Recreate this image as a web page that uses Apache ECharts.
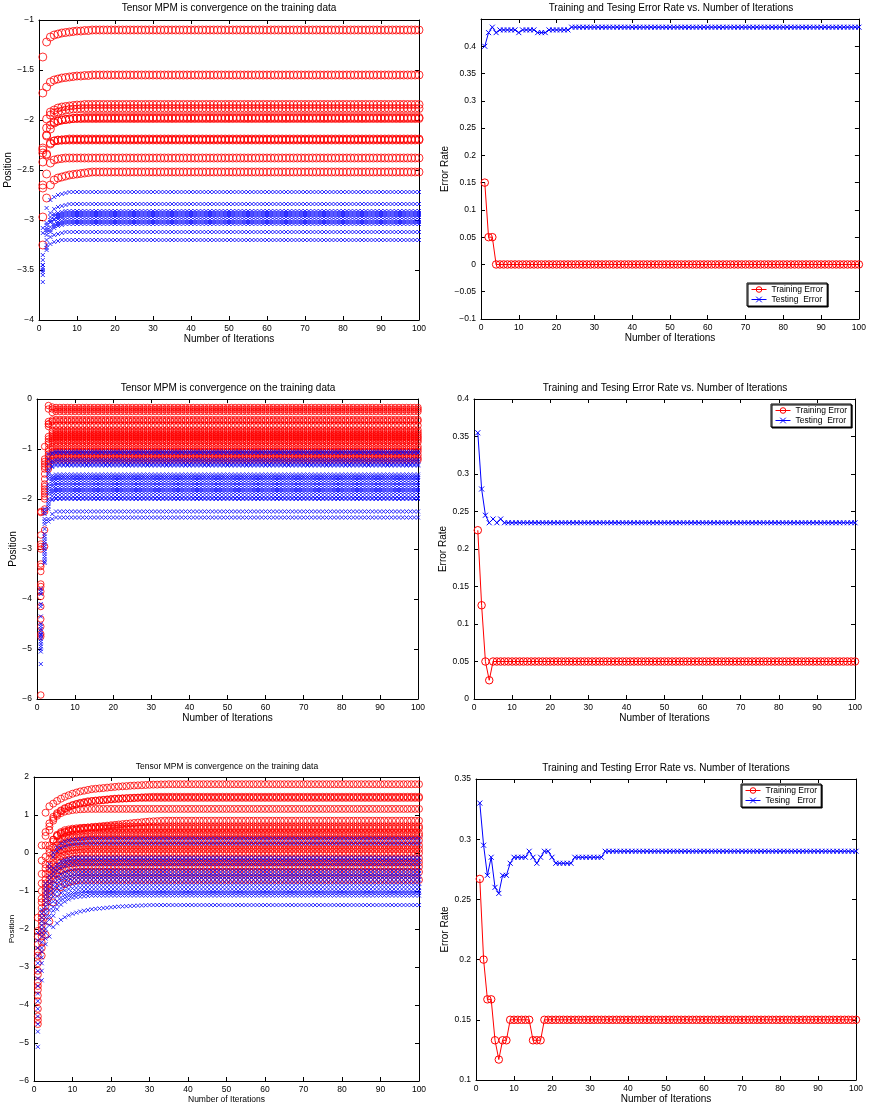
<!DOCTYPE html>
<html><head><meta charset="utf-8">
<script src="https://cdn.jsdelivr.net/npm/echarts@6/dist/echarts.min.js"></script>
<style>html,body{margin:0;padding:0;background:#fff}#c{width:869px;height:1107px}</style>
</head><body><div id="c"></div>
<script>
// ================= DATA =================
// Each curve lists the values, starting at iteration 1,
// up to the point where it has converged; it stays flat at its last value to iteration 100.
const ITER = 100;

// ---- Panel 1 (top-left): Position vs iterations ----
const p1RedCurves = [
  [-1.37,-1.22,-1.17,-1.15,-1.14,-1.13,-1.125,-1.12,-1.115,-1.11,-1.11,-1.105,-1.105,-1.10],
  [-1.73,-1.67,-1.62,-1.60,-1.59,-1.58,-1.575,-1.57,-1.565,-1.56,-1.56,-1.555,-1.555,-1.55],
  [-2.28,-1.99,-1.92,-1.90,-1.88,-1.87,-1.865,-1.86,-1.855,-1.85,-1.85,-1.845],
  [-2.30,-2.08,-1.95,-1.93,-1.92,-1.91,-1.90,-1.895,-1.89,-1.89,-1.885],
  [-2.33,-2.15,-2.05,-2.02,-2.01,-2.00,-1.995,-1.99,-1.985,-1.98,-1.98,-1.975],
  [-2.42,-2.16,-2.09,-2.03,-2.01,-2.00,-1.995,-1.99,-1.985,-1.985],
  [-2.65,-2.34,-2.23,-2.21,-2.20,-2.20,-2.195,-2.19],
  [-2.68,-2.35,-2.24,-2.21,-2.205,-2.20],
  [-2.97,-2.54,-2.43,-2.40,-2.39,-2.385,-2.38],
  [-3.25,-2.78,-2.65,-2.60,-2.58,-2.57,-2.56,-2.55,-2.545,-2.54,-2.535,-2.53,-2.525,-2.52]
];
const p1BlueCurves = [
  [-3.08,-2.88,-2.80,-2.77,-2.75,-2.74,-2.73,-2.72],
  [-3.35,-3.03,-2.93,-2.89,-2.87,-2.86,-2.85,-2.84],
  [-3.45,-3.05,-2.97,-2.94,-2.93,-2.92,-2.91],
  [-3.40,-3.10,-3.00,-2.96,-2.95,-2.94,-2.93],
  [-3.50,-3.12,-3.02,-2.99,-2.97,-2.96,-2.95],
  [-3.13,-3.08,-3.02,-3.00,-2.99,-2.98,-2.97],
  [-3.55,-3.20,-3.07,-3.04,-3.02,-3.01,-3.00],
  [-3.52,-3.15,-3.10,-3.06,-3.04,-3.03,-3.02],
  [-3.62,-3.25,-3.12,-3.08,-3.06,-3.05,-3.04],
  [-3.45,-3.28,-3.17,-3.15,-3.14,-3.13,-3.12],
  [-3.48,-3.30,-3.24,-3.22,-3.21,-3.20]
];

// ---- Panel 2 (top-right): error rates ----
const p2TrainErr = [0.15,0.05,0.05,0];
const p2TestErr  = [0.40,0.425,0.435,0.425,0.43,0.43,0.43,0.43,0.43,0.425,0.43,0.43,0.43,0.43,0.425,0.425,0.425,0.43,0.43,0.43,0.43,0.43,0.43,0.435];

// ---- Panel 3 (middle-left) ----
const p3RedCurves = [
  [-2.25,-0.95,-0.13,-0.16,-0.17],
  [-2.27,-1.20,-0.20,-0.20,-0.21],
  [-2.72,-1.25,-0.50,-0.27,-0.25],
  [-2.90,-1.30,-0.45,-0.42,-0.41],
  [-2.95,-1.35,-0.50,-0.45,-0.44],
  [-3.00,-1.40,-0.55,-0.53,-0.53],
  [-3.30,-1.50,-0.75,-0.63,-0.62],
  [-3.35,-1.60,-0.80,-0.68,-0.67],
  [-3.45,-1.70,-0.85,-0.72,-0.71],
  [-3.70,-1.75,-0.90,-0.76,-0.75],
  [-3.75,-1.80,-1.00,-0.79,-0.78],
  [-3.85,-1.85,-1.05,-0.83,-0.82],
  [-3.95,-1.90,-1.10,-0.87,-0.86],
  [-4.15,-1.95,-1.15,-0.96,-0.95],
  [-4.40,-2.00,-1.20,-1.01,-1.00],
  [-4.55,-2.20,-1.25,-1.06,-1.05],
  [-4.70,-2.25,-1.30,-1.13,-1.12],
  [-4.75,-2.62,-1.35,-1.19,-1.18],
  [-5.92,-2.95,-1.40,-1.23,-1.22]
];
const p3BlueCurves = [
  [-3.80,-2.20,-1.10,-1.07,-1.05],
  [-3.85,-2.25,-1.20,-1.10,-1.08],
  [-3.90,-2.30,-1.30,-1.24,-1.21],
  [-4.10,-2.40,-1.40,-1.28,-1.25],
  [-4.15,-2.45,-1.45,-1.34,-1.31],
  [-4.35,-2.50,-1.50,-1.36,-1.33],
  [-4.50,-2.60,-1.55,-1.53,-1.51],
  [-4.55,-2.70,-1.60,-1.57,-1.55],
  [-4.60,-2.75,-1.70,-1.60,-1.58],
  [-4.65,-2.80,-1.75,-1.64,-1.62],
  [-4.70,-2.85,-1.80,-1.70,-1.68],
  [-4.72,-2.90,-1.85,-1.74,-1.72],
  [-4.75,-2.95,-1.90,-1.80,-1.78],
  [-4.80,-3.00,-2.00,-1.84,-1.82],
  [-4.85,-3.05,-2.05,-1.88,-1.86],
  [-4.90,-3.10,-2.10,-1.94,-1.92],
  [-4.95,-3.15,-2.15,-2.00,-1.98],
  [-5.00,-3.20,-2.20,-2.02,-2.00],
  [-5.05,-3.25,-2.40,-2.30,-2.25],
  [-5.30,-3.28,-2.45,-2.40,-2.37]
];

// ---- Panel 4 (middle-right) ----
const p4TrainErr = [0.225,0.125,0.05,0.025,0.05];
const p4TestErr  = [0.355,0.28,0.245,0.235,0.24,0.235,0.24,0.235];

// ---- Panel 5 (bottom-left) ----
const p5RedCurves = [
  [-1.70,0.20,1.06,1.23,1.30,1.37,1.43,1.48,1.52,1.56,1.59,1.62,1.64,1.66,1.68,1.69,1.70,1.71,1.72,1.73,1.74,1.75,1.755,1.76,1.77,1.775,1.78,1.785,1.79,1.795,1.80,1.80,1.805,1.805,1.81],
  [-2.05,-0.20,0.55,0.78,0.95,1.05,1.12,1.18,1.22,1.26,1.29,1.32,1.34,1.36,1.37,1.38,1.39,1.40,1.41,1.42,1.43,1.435,1.44,1.445,1.45,1.455,1.46,1.465,1.47,1.475,1.48],
  [-2.20,-0.55,0.45,0.70,0.90,1.02,1.10,1.16,1.21,1.25,1.28,1.30,1.32,1.34,1.36,1.37,1.38,1.39,1.40,1.41,1.42,1.425,1.43,1.435,1.44,1.445,1.45],
  [-2.40,-0.80,0.20,0.60,0.85,0.98,1.05,1.09,1.11,1.13,1.14,1.15,1.155,1.16],
  [-2.60,-1.00,-0.10,0.20,0.35,0.45,0.50,0.54,0.57,0.60,0.62,0.64,0.66,0.67,0.68,0.69,0.70,0.71,0.72,0.73,0.74,0.75,0.76,0.77,0.78,0.79,0.80,0.81,0.82,0.83,0.835,0.84,0.845,0.85],
  [-2.70,-1.20,-0.30,0.10,0.35,0.48,0.55,0.60,0.62,0.64,0.65,0.66,0.665,0.67,0.675,0.68,0.685,0.69,0.695,0.70],
  [-2.90,-1.30,-0.40,0.00,0.30,0.45,0.52,0.56,0.58,0.60,0.61,0.62,0.63,0.64,0.645,0.65],
  [-3.10,-1.45,-0.55,-0.15,0.15,0.30,0.38,0.42,0.45,0.47,0.48,0.49,0.50,0.51,0.515,0.52],
  [-3.20,-1.60,-0.70,-0.30,0.00,0.20,0.30,0.35,0.38,0.40,0.41,0.42,0.43,0.44,0.445,0.45],
  [-3.40,-1.70,-0.80,-0.40,-0.10,0.10,0.20,0.25,0.27,0.29,0.30,0.31,0.32,0.325,0.33],
  [-3.50,-1.80,-0.90,-0.50,-0.20,0.00,0.08,0.12,0.14,0.16,0.17,0.18,0.19,0.20],
  [-3.60,-1.90,-1.00,-0.60,-0.30,-0.10,0.00,0.03,0.05,0.07,0.08,0.09,0.10],
  [-3.75,-2.00,-1.10,-0.70,-0.40,-0.20,-0.10,-0.06,-0.04,-0.02,-0.01,0.00],
  [-3.90,-2.10,-1.20,-0.80,-0.50,-0.35,-0.25,-0.20,-0.18,-0.16,-0.15,-0.14],
  [-4.10,-2.20,-1.30,-0.90,-0.60,-0.45,-0.35,-0.30,-0.28,-0.27,-0.26,-0.25],
  [-4.30,-2.35,-1.40,-1.00,-0.70,-0.55,-0.47,-0.42,-0.39,-0.37,-0.36],
  [-4.40,-2.50,-1.55,-1.10,-0.85,-0.70,-0.62,-0.57,-0.54,-0.52,-0.51,-0.50],
  [-4.50,-2.70,-2.15,-1.80,-1.30,-1.05,-0.90,-0.82,-0.77,-0.74,-0.72,-0.71]
];
const p5BlueCurves = [
  [-2.10,-1.50,-0.80,-0.30,0.00,0.15,0.25,0.30,0.33,0.35,0.36,0.37,0.375,0.38],
  [-2.30,-1.60,-0.90,-0.40,-0.10,0.05,0.13,0.18,0.21,0.23,0.24,0.25],
  [-2.50,-1.70,-1.00,-0.60,-0.40,-0.30,-0.22,-0.18,-0.15,-0.13,-0.12],
  [-2.70,-1.80,-1.10,-0.70,-0.50,-0.38,-0.30,-0.25,-0.22,-0.21,-0.20],
  [-2.90,-1.90,-1.20,-0.80,-0.60,-0.48,-0.40,-0.35,-0.32,-0.31,-0.30],
  [-3.10,-2.00,-1.30,-0.95,-0.75,-0.62,-0.55,-0.50,-0.47,-0.46,-0.45],
  [-3.30,-2.10,-1.40,-1.05,-0.85,-0.72,-0.65,-0.60,-0.57,-0.56,-0.55],
  [-3.50,-2.20,-1.50,-1.15,-0.95,-0.82,-0.73,-0.68,-0.65,-0.63,-0.62],
  [-3.70,-2.35,-1.60,-1.25,-1.05,-0.92,-0.83,-0.77,-0.74,-0.72,-0.71,-0.70],
  [-3.90,-2.50,-1.70,-1.35,-1.15,-1.02,-0.93,-0.87,-0.84,-0.82,-0.81,-0.80],
  [-4.10,-2.60,-1.85,-1.50,-1.28,-1.14,-1.05,-0.99,-0.95,-0.93,-0.92,-0.91,-0.90],
  [-4.30,-2.75,-2.00,-1.65,-1.42,-1.27,-1.17,-1.10,-1.06,-1.04,-1.02,-1.01,-1.00],
  [-4.50,-2.90,-2.10,-1.75,-1.52,-1.36,-1.25,-1.18,-1.13,-1.10,-1.08,-1.07,-1.06,-1.05],
  [-4.70,-3.10,-2.25,-1.90,-1.65,-1.48,-1.36,-1.28,-1.22,-1.18,-1.16,-1.15,-1.14,-1.13,-1.12],
  [-5.10,-3.35,-2.40,-2.20,-1.95,-1.85,-1.76,-1.69,-1.64,-1.60,-1.57,-1.54,-1.52,-1.50,-1.48,-1.47,-1.46,-1.45,-1.44,-1.43,-1.42,-1.41,-1.405,-1.40,-1.395,-1.39,-1.385,-1.38,-1.375,-1.37]
];

// ---- Panel 6 (bottom-right) ----
const p6TrainErr = [0.267,0.2,0.167,0.167,0.133,0.117,0.133,0.133,0.15,0.15,0.15,0.15,0.15,0.15,0.133,0.133,0.133,0.15];
const p6TestErr  = [0.33,0.295,0.27,0.285,0.26,0.255,0.27,0.27,0.28,0.285,0.285,0.285,0.285,0.29,0.285,0.28,0.285,0.29,0.29,0.285,0.28,0.28,0.28,0.28,0.28,0.285,0.285,0.285,0.285,0.285,0.285,0.285,0.285,0.29];

// Texts
const leftTitle = 'Tensor MPM is convergence on the training data';
const rightTitleA = 'Training and Tesing Error Rate vs. Number of Iterations';
const rightTitleB = 'Training and Testing Error Rate vs. Number of Iterations';
const xName = 'Number of Iterations';
const yNameLeft = 'Position';
const yNameRight = 'Error Rate';
const trainName = 'Training Error';
const testNameA = 'Testing  Error';
const testNameB = 'Tesing   Error';

// ================= CHART =================
const FONT = '"Liberation Sans", Arial, Helvetica, sans-serif';
const RED = '#ff0000', BLUE = '#0000ff';
const XMARK = 'path://M0,0L10,10M0,10L10,0';

function hold(vals){ const out = vals.slice(); while (out.length < ITER) out.push(vals[vals.length-1]); return out; }
function pts(curves){ const d=[]; curves.forEach(c => hold(c).forEach((v,i) => d.push([i+1, v]))); return d; }
function linePts(vals){ return hold(vals).map((v,i) => [i+1, v]); }
const fmt = v => { if (Math.abs(v) < 1e-9) return '0'; return String(Math.round(v*1000)/1000).replace('-', '\u2212'); };

const grids=[], xAxes=[], yAxes=[], series=[], titles=[], legends=[];

function addPanel(p){
  const gi = grids.length;
  grids.push(Object.assign({show:false, containLabel:false}, p.rect));
  const axLine = {show:true, onZero:false, lineStyle:{color:'#000', width:1}};
  const axTick = {show:true, inside:true, length:4, lineStyle:{color:'#000', width:1}};
  const lab = {fontSize:p.tickFont, color:'#000', fontFamily:FONT};
  xAxes.push({type:'value', gridIndex:gi, position:'bottom', min:0, max:100, interval:10,
    axisLine:axLine, axisTick:axTick, splitLine:{show:false},
    axisLabel:Object.assign({margin:4, formatter:fmt}, lab),
    name:xName, nameLocation:'middle', nameGap:p.xGap,
    nameTextStyle:{fontSize:p.nameFont, color:'#000', fontFamily:FONT}});
  xAxes.push({type:'value', gridIndex:gi, position:'top', min:0, max:100, interval:10,
    axisLine:axLine, axisTick:axTick, splitLine:{show:false}, axisLabel:{show:false}});
  yAxes.push({type:'value', gridIndex:gi, position:'left', min:p.yMin, max:p.yMax, interval:p.yInt,
    axisLine:axLine, axisTick:axTick, splitLine:{show:false},
    axisLabel:Object.assign({margin:5, formatter: v => (p.hideAbove !== undefined && v > p.hideAbove) ? '' : fmt(v)}, lab),
    name:p.yName, nameLocation:'middle', nameGap:p.yGap,
    nameTextStyle:{fontSize:p.yNameFont || p.nameFont, color:'#000', fontFamily:FONT}});
  yAxes.push({type:'value', gridIndex:gi, position:'right', min:p.yMin, max:p.yMax, interval:p.yInt,
    axisLine:axLine, axisTick:axTick, splitLine:{show:false}, axisLabel:{show:false}});
  titles.push({text:p.title, left:p.titleX, top:p.titleY, textAlign:'center', padding:0,
    textStyle:{fontSize:p.titleFont, fontWeight:'normal', color:'#000', fontFamily:FONT}});
  return 2*gi;
}

function scatterPanel(p, red, blue, rs, bs){
  const ai = addPanel(p);
  series.push({type:'scatter', xAxisIndex:ai, yAxisIndex:ai, data:pts(red), symbol:'circle', symbolSize:rs,
    itemStyle:{color:'rgba(0,0,0,0)', borderColor:RED, borderWidth:1}, large:false, progressive:0, silent:true});
  series.push({type:'scatter', xAxisIndex:ai, yAxisIndex:ai, data:pts(blue), symbol:XMARK, symbolSize:bs,
    itemStyle:{color:'rgba(0,0,0,0)', borderColor:BLUE, borderWidth:1}, large:false, progressive:0, silent:true});
}
function errorPanel(p, train, test, testName, leg){
  const ai = addPanel(p);
  series.push({type:'line', name:trainName, xAxisIndex:ai, yAxisIndex:ai, data:linePts(train), symbol:'circle', symbolSize:7.5,
    showAllSymbol:true, lineStyle:{color:RED, width:1}, itemStyle:{color:'rgba(0,0,0,0)', borderColor:RED, borderWidth:1}, silent:true});
  series.push({type:'line', name:testName, xAxisIndex:ai, yAxisIndex:ai, data:linePts(test), symbol:XMARK, symbolSize:5,
    showAllSymbol:true, lineStyle:{color:BLUE, width:1}, itemStyle:{color:'rgba(0,0,0,0)', borderColor:BLUE, borderWidth:1}, silent:true});
  legends.push({orient:'vertical', left:leg.left, top:leg.top, data:[trainName, testName], selectedMode:false,
    borderColor:'#000', borderWidth:1, backgroundColor:'#fff', padding:[2,4,2,4], itemGap:1, itemWidth:15, itemHeight:7,
    lineStyle:{width:1}, itemStyle:{borderWidth:1},
    shadowColor:'#000', shadowOffsetX:1, shadowOffsetY:1, shadowBlur:0,
    textStyle:{fontSize:8.5, color:'#000', fontFamily:FONT}});
}

scatterPanel({rect:{left:39, top:20, width:380, height:300}, yMin:-4, yMax:-1, yInt:0.5, tickFont:8.5, nameFont:10,
  xGap:12, yGap:22, yName:yNameLeft, title:leftTitle, titleX:229, titleY:3, titleFont:10}, p1RedCurves, p1BlueCurves, 8, 4);
errorPanel({rect:{left:481, top:19, width:380, height:300}, yMin:-0.1, yMax:0.45, yInt:0.05, hideAbove:0.42, tickFont:8.5, nameFont:10,
  xGap:13, yGap:26, yName:yNameRight, title:rightTitleA, titleX:671, titleY:3, titleFont:10}, p2TrainErr, p2TestErr, testNameA, {left:747, top:283});
scatterPanel({rect:{left:37, top:399, width:381, height:300}, yMin:-6, yMax:0, yInt:1, tickFont:8.5, nameFont:10,
  xGap:12, yGap:15, yName:yNameLeft, title:leftTitle, titleX:228, titleY:383, titleFont:10}, p3RedCurves, p3BlueCurves, 6.5, 4);
errorPanel({rect:{left:474, top:399, width:381, height:300}, yMin:0, yMax:0.4, yInt:0.05, tickFont:8.5, nameFont:10,
  xGap:12, yGap:22, yName:yNameRight, title:rightTitleA, titleX:665, titleY:383, titleFont:10}, p4TrainErr, p4TestErr, testNameA, {left:771, top:404});
scatterPanel({rect:{left:34, top:777, width:385, height:304}, yMin:-6, yMax:2, yInt:1, tickFont:8.5, nameFont:8.5, yNameFont:8,
  xGap:11, yGap:15, yName:yNameLeft, title:leftTitle, titleX:227, titleY:762, titleFont:8.5}, p5RedCurves, p5BlueCurves, 7, 4);
errorPanel({rect:{left:476, top:779, width:380, height:301}, yMin:0.1, yMax:0.35, yInt:0.05, tickFont:8.5, nameFont:10,
  xGap:12, yGap:22, yName:yNameRight, title:rightTitleB, titleX:666, titleY:763, titleFont:10}, p6TrainErr, p6TestErr, testNameB, {left:741, top:784});

const chart = echarts.init(document.getElementById('c'), null, {renderer:'canvas', width:869, height:1107});
chart.setOption({
  backgroundColor:'#fff', animation:false, textStyle:{fontFamily:FONT},
  title:titles, grid:grids, xAxis:xAxes, yAxis:yAxes, legend:legends, series:series
});
</script></body></html>
